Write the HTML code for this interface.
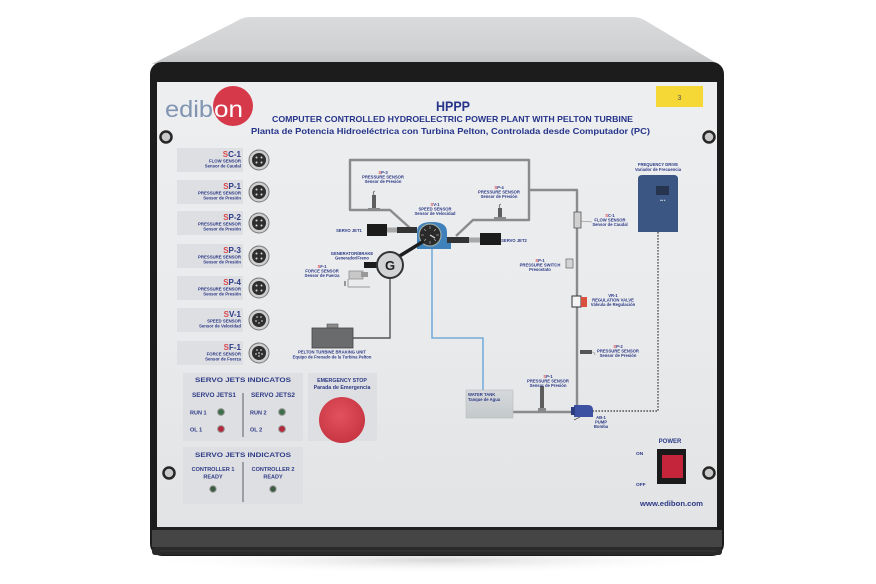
<!DOCTYPE html>
<html><head><meta charset="utf-8"><style>
html,body{margin:0;padding:0;background:#fff;}
svg{display:block;}
text{font-family:"Liberation Sans",sans-serif;}
</style></head><body>
<svg width="876" height="584" viewBox="0 0 876 584" xmlns="http://www.w3.org/2000/svg">
<defs>
<linearGradient id="lid" x1="0" y1="0" x2="0" y2="1">
<stop offset="0" stop-color="#d9dadc"/><stop offset="0.7" stop-color="#d0d1d3"/><stop offset="1" stop-color="#c2c3c5"/>
</linearGradient>
<linearGradient id="pan" x1="0" y1="0" x2="0" y2="1">
<stop offset="0" stop-color="#eceef0"/><stop offset="0.5" stop-color="#e9ebed"/><stop offset="1" stop-color="#e1e3e5"/>
</linearGradient>
<radialGradient id="btn" cx="0.45" cy="0.4" r="0.6">
<stop offset="0" stop-color="#e2525e"/><stop offset="1" stop-color="#c83643"/>
</radialGradient>
<linearGradient id="tank" x1="0" y1="0" x2="0" y2="1">
<stop offset="0" stop-color="#d6d9db"/><stop offset="1" stop-color="#c4c9cb"/>
</linearGradient>
<radialGradient id="shadow" cx="0.5" cy="0.5" r="0.5">
<stop offset="0" stop-color="#d8d8d8"/><stop offset="1" stop-color="#ffffff" stop-opacity="0"/>
</radialGradient>
</defs>
<rect width="876" height="584" fill="#fff"/>
<ellipse cx="437" cy="560" rx="300" ry="14" fill="url(#shadow)"/>
<!-- lid -->
<path d="M250,17 L633,17 Q640,17 646,21 L718,64 L152,64 L237,21 Q243,17 250,17 Z" fill="url(#lid)"/>
<!-- frame -->
<rect x="150" y="62" width="574" height="494" rx="12" fill="#1c1c1c"/>
<!-- panel -->
<rect x="157" y="82" width="560" height="445" fill="url(#pan)"/>
<!-- bottom bar -->
<rect x="157" y="527" width="560" height="3" fill="#202020"/>
<rect x="152" y="530" width="570" height="17" fill="#454545"/>
<rect x="152" y="547" width="570" height="8" rx="3" fill="#2a2a2a"/>
<line x1="160" y1="551" x2="716" y2="551" stroke="#3a3a3a" stroke-width="1"/>

<!-- logo -->
<text x="165" y="117" font-size="23" fill="#8194b2" textLength="48" lengthAdjust="spacingAndGlyphs">edib</text>
<circle cx="233" cy="106" r="20" fill="#d6394a"/>
<text x="214" y="117" font-size="23" fill="#ffffff" textLength="29" lengthAdjust="spacingAndGlyphs">on</text>

<!-- titles -->
<text x="436" y="111" font-size="14" font-weight="bold" fill="#26348a" textLength="34" lengthAdjust="spacingAndGlyphs">HPPP</text>
<text x="272" y="122" font-size="8.5" font-weight="bold" fill="#26348a" textLength="361" lengthAdjust="spacingAndGlyphs">COMPUTER CONTROLLED HYDROELECTRIC POWER PLANT WITH PELTON TURBINE</text>
<text x="251" y="134" font-size="8.5" font-weight="bold" fill="#26348a" textLength="399" lengthAdjust="spacingAndGlyphs">Planta de Potencia Hidroeléctrica con Turbina Pelton, Controlada desde Computador (PC)</text>
<rect x="656" y="86" width="47" height="21" fill="#f5d836"/>
<text x="679.5" y="100" font-size="7" fill="#555" text-anchor="middle">3</text>

<!-- screws -->
<g fill="#c9c9c9" stroke="#262626" stroke-width="2.5">
<circle cx="166" cy="137" r="5.5"/><circle cx="709" cy="137" r="5.5"/>
<circle cx="169" cy="473" r="5.5"/><circle cx="709" cy="473" r="5.5"/>
</g>

<!-- sensor labels -->
<g font-weight="bold" text-anchor="end">
<g>
<rect x="177" y="148" width="66" height="24" fill="#dddfe2"/>
<text x="241" y="157" font-size="8"><tspan fill="#d94a50">S</tspan><tspan fill="#2d3a86">C-1</tspan></text>
<text x="241" y="162.5" font-size="4.3" fill="#2d3a86">FLOW SENSOR</text>
<text x="241" y="167.5" font-size="4.3" fill="#2d3a86">Sensor de Caudal</text>
</g>
<g>
<rect x="177" y="180" width="66" height="24" fill="#dddfe2"/>
<text x="241" y="189" font-size="8"><tspan fill="#d94a50">S</tspan><tspan fill="#2d3a86">P-1</tspan></text>
<text x="241" y="194.5" font-size="4.3" fill="#2d3a86">PRESSURE SENSOR</text>
<text x="241" y="199.5" font-size="4.3" fill="#2d3a86">Sensor de Presión</text>
</g>
<g>
<rect x="177" y="211" width="66" height="24" fill="#dddfe2"/>
<text x="241" y="220" font-size="8"><tspan fill="#d94a50">S</tspan><tspan fill="#2d3a86">P-2</tspan></text>
<text x="241" y="225.5" font-size="4.3" fill="#2d3a86">PRESSURE SENSOR</text>
<text x="241" y="230.5" font-size="4.3" fill="#2d3a86">Sensor de Presión</text>
</g>
<g>
<rect x="177" y="244" width="66" height="24" fill="#dddfe2"/>
<text x="241" y="253" font-size="8"><tspan fill="#d94a50">S</tspan><tspan fill="#2d3a86">P-3</tspan></text>
<text x="241" y="258.5" font-size="4.3" fill="#2d3a86">PRESSURE SENSOR</text>
<text x="241" y="263.5" font-size="4.3" fill="#2d3a86">Sensor de Presión</text>
</g>
<g>
<rect x="177" y="276" width="66" height="24" fill="#dddfe2"/>
<text x="241" y="285" font-size="8"><tspan fill="#d94a50">S</tspan><tspan fill="#2d3a86">P-4</tspan></text>
<text x="241" y="290.5" font-size="4.3" fill="#2d3a86">PRESSURE SENSOR</text>
<text x="241" y="295.5" font-size="4.3" fill="#2d3a86">Sensor de Presión</text>
</g>
<g>
<rect x="177" y="308" width="66" height="24" fill="#dddfe2"/>
<text x="241" y="317" font-size="8"><tspan fill="#d94a50">S</tspan><tspan fill="#2d3a86">V-1</tspan></text>
<text x="241" y="322.5" font-size="4.3" fill="#2d3a86">SPEED SENSOR</text>
<text x="241" y="327.5" font-size="4.3" fill="#2d3a86">Sensor de Velocidad</text>
</g>
<g>
<rect x="177" y="341" width="66" height="24" fill="#dddfe2"/>
<text x="241" y="350" font-size="8"><tspan fill="#d94a50">S</tspan><tspan fill="#2d3a86">F-1</tspan></text>
<text x="241" y="355.5" font-size="4.3" fill="#2d3a86">FORCE SENSOR</text>
<text x="241" y="360.5" font-size="4.3" fill="#2d3a86">Sensor de Fuerza</text>
</g>
</g>
<!-- connectors -->
<g>
<g transform="translate(259,160)"><circle r="10" fill="#cfcfcf" stroke="#777" stroke-width="1"/><circle r="7" fill="#2e2e2e"/><circle cx="-2.5" cy="-2.5" r="1" fill="#ddd"/><circle cx="2.5" cy="-2.5" r="1" fill="#ddd"/><circle cx="-2.5" cy="2.5" r="1" fill="#ddd"/><circle cx="2.5" cy="2.5" r="1" fill="#ddd"/></g>
<g transform="translate(259,192)"><circle r="10" fill="#cfcfcf" stroke="#777" stroke-width="1"/><circle r="7" fill="#2e2e2e"/><circle cx="-2.5" cy="-2.5" r="1" fill="#ddd"/><circle cx="2.5" cy="-2.5" r="1" fill="#ddd"/><circle cx="-2.5" cy="2.5" r="1" fill="#ddd"/><circle cx="2.5" cy="2.5" r="1" fill="#ddd"/></g>
<g transform="translate(259,223)"><circle r="10" fill="#cfcfcf" stroke="#777" stroke-width="1"/><circle r="7" fill="#2e2e2e"/><circle cx="-2.5" cy="-2.5" r="1" fill="#ddd"/><circle cx="2.5" cy="-2.5" r="1" fill="#ddd"/><circle cx="-2.5" cy="2.5" r="1" fill="#ddd"/><circle cx="2.5" cy="2.5" r="1" fill="#ddd"/></g>
<g transform="translate(259,256)"><circle r="10" fill="#cfcfcf" stroke="#777" stroke-width="1"/><circle r="7" fill="#2e2e2e"/><circle cx="-2.5" cy="-2.5" r="1" fill="#ddd"/><circle cx="2.5" cy="-2.5" r="1" fill="#ddd"/><circle cx="-2.5" cy="2.5" r="1" fill="#ddd"/><circle cx="2.5" cy="2.5" r="1" fill="#ddd"/></g>
<g transform="translate(259,288)"><circle r="10" fill="#cfcfcf" stroke="#777" stroke-width="1"/><circle r="7" fill="#2e2e2e"/><circle cx="-2.5" cy="-2.5" r="1" fill="#ddd"/><circle cx="2.5" cy="-2.5" r="1" fill="#ddd"/><circle cx="-2.5" cy="2.5" r="1" fill="#ddd"/><circle cx="2.5" cy="2.5" r="1" fill="#ddd"/></g>
<g transform="translate(259,320)"><circle r="10" fill="#cfcfcf" stroke="#777" stroke-width="1"/><circle r="7" fill="#2e2e2e"/><circle cx="-2" cy="-3" r="0.9" fill="#bbb"/><circle cx="2" cy="-3" r="0.9" fill="#bbb"/><circle cx="-3" cy="1" r="0.9" fill="#bbb"/><circle cx="3" cy="1" r="0.9" fill="#bbb"/><circle cx="0" cy="3" r="0.9" fill="#bbb"/></g>
<g transform="translate(259,353)"><circle r="10" fill="#cfcfcf" stroke="#777" stroke-width="1"/><circle r="7" fill="#2e2e2e"/><circle cx="-2" cy="-3" r="0.9" fill="#ccc"/><circle cx="2" cy="-3" r="0.9" fill="#ccc"/><circle cx="-3" cy="1" r="0.9" fill="#ccc"/><circle cx="3" cy="1" r="0.9" fill="#ccc"/><circle cx="0" cy="3" r="0.9" fill="#ccc"/><circle cx="0" cy="0" r="0.9" fill="#ccc"/></g>
</g>

<!-- diagram pipes -->
<g fill="none" stroke="#8a8b8d" stroke-width="2.4" stroke-linejoin="round">
<path d="M410,228 L390,210 L350,210 L350,160 L529,160 L529,220 L473,220 L456,236"/>
<path d="M529,190 L577,190 L577,412"/>
<path d="M513,412 L576,412"/>
</g>
<path d="M432,248 L432,338 L483,338 L483,390" fill="none" stroke="#5f9fd6" stroke-width="1.3"/>
<path d="M390,279 L390,338 L353,338" fill="none" stroke="#555" stroke-width="1.4"/>
<path d="M658,232 L658,411 L593,411" fill="none" stroke="#555" stroke-width="1.4" stroke-dasharray="1.6,1.4"/>

<!-- SP-3 / SP-4 sensors -->
<rect x="372" y="195" width="4" height="13" fill="#5e5e5e"/>
<rect x="368" y="208" width="12" height="3" fill="#8a8a8a"/>
<path d="M374,195 q-2,-3 1,-4" stroke="#555" fill="none" stroke-width="0.8"/>
<rect x="498" y="208" width="4" height="10" fill="#5e5e5e"/>
<rect x="494" y="217" width="12" height="3" fill="#8a8a8a"/>
<path d="M500,208 q-2,-3 1,-4" stroke="#555" fill="none" stroke-width="0.8"/>

<!-- servo jets -->
<rect x="367" y="224" width="20" height="12" fill="#1b1b1b"/>
<rect x="387" y="227.5" width="10" height="5" fill="#a8a8a8"/>
<rect x="397" y="227" width="20" height="6" fill="#333"/>
<rect x="480" y="233" width="21" height="12" fill="#1b1b1b"/>
<rect x="469" y="237.5" width="11" height="5" fill="#a8a8a8"/>
<rect x="447" y="237" width="22" height="6" fill="#333"/>
<!-- turbine -->
<path d="M417,249 L417,232 Q417,222 432,222 Q447,222 447,232 L447,243 L451,243 L451,249 Z" fill="#3f82bb"/>
<circle cx="430" cy="235" r="11" fill="#2a2a2a" stroke="#9aa" stroke-width="1.2"/>
<g stroke="#aaa" stroke-width="0.7">
<line x1="430" y1="226" x2="430" y2="229"/><line x1="439" y1="235" x2="436" y2="235"/><line x1="421" y1="235" x2="424" y2="235"/><line x1="430" y1="244" x2="430" y2="241"/>
<line x1="424" y1="229" x2="426" y2="231"/><line x1="436" y1="229" x2="434" y2="231"/><line x1="424" y1="241" x2="426" y2="239"/><line x1="436" y1="241" x2="434" y2="239"/>
<line x1="430" y1="235" x2="435" y2="238" stroke="#ddd" stroke-width="1.2"/>
</g>
<!-- generator -->
<line x1="398" y1="257" x2="424" y2="241" stroke="#1e1e1e" stroke-width="3.5"/>
<rect x="364" y="262" width="14" height="6" fill="#1b1b1b"/>
<circle cx="390" cy="265" r="13" fill="#d2d3d4" stroke="#333" stroke-width="2"/>
<text x="390" y="270" font-size="13" font-weight="bold" fill="#1e1e1e" text-anchor="middle">G</text>
<!-- force sensor -->
<rect x="349" y="271" width="14" height="8" fill="#c8c8c8" stroke="#888" stroke-width="0.7"/>
<rect x="361" y="272" width="7" height="5" fill="#999"/>
<line x1="348" y1="287" x2="370" y2="287" stroke="#b5b5b5" stroke-width="1.5"/>
<line x1="348" y1="279" x2="348" y2="287" stroke="#999" stroke-width="1"/>
<line x1="345" y1="281" x2="345" y2="286" stroke="#444" stroke-width="1"/>
<!-- braking unit -->
<rect x="327" y="324" width="11" height="5" fill="#8a8a8a" stroke="#555" stroke-width="0.6"/>
<rect x="312" y="328" width="41" height="20" fill="#6a6b6d" stroke="#444" stroke-width="0.8"/>

<!-- right side devices -->
<rect x="574" y="212" width="7" height="16" fill="#d0d0d0" stroke="#555" stroke-width="0.8"/>
<line x1="581" y1="221" x2="592" y2="222" stroke="#777" stroke-width="0.6"/>
<rect x="566" y="259" width="7" height="9" fill="#d4d4d4" stroke="#666" stroke-width="0.7"/>
<rect x="572" y="296" width="9" height="11" fill="#f4f4f4" stroke="#333" stroke-width="1"/>
<rect x="581" y="297" width="6" height="10" fill="#d9503f"/>
<rect x="580" y="350" width="12" height="4" fill="#555"/>
<path d="M592,352 q3,0 3,3" fill="none" stroke="#777" stroke-width="0.6"/>
<rect x="466" y="390" width="47" height="28" fill="url(#tank)" stroke="#b8bcbe" stroke-width="0.6"/>
<rect x="540" y="386" width="4" height="22" fill="#5e5e5e"/>
<rect x="538" y="408" width="8" height="4" fill="#888"/>
<path d="M574,405 L588,405 Q593,405 593,410 L593,417 L574,417 Z" fill="#3d51a3"/>
<rect x="571" y="407" width="4" height="8" fill="#2c3c80"/>
<line x1="580" y1="417" x2="574" y2="420" stroke="#555" stroke-width="0.8"/>
<!-- frequency drive -->
<path d="M638,232 L638,179 Q638,175 642,175 L674,175 Q678,175 678,179 L678,232 Z" fill="#3b5682"/>
<rect x="656" y="186" width="13" height="9" fill="#27344f"/>
<text x="660" y="201" font-size="2.5" fill="#c0c8d8">■■ ■</text>

<!-- diagram labels -->
<g font-weight="bold" fill="#2d3a86" text-anchor="middle" font-size="4.2">
<text x="383" y="174"><tspan fill="#d94a50">S</tspan>P-3</text><text x="383" y="178.5">PRESSURE SENSOR</text><text x="383" y="183">Sensor de Presión</text>
<text x="499" y="189"><tspan fill="#d94a50">S</tspan>P-4</text><text x="499" y="193.5">PRESSURE SENSOR</text><text x="499" y="198">Sensor de Presión</text>
<text x="435" y="206"><tspan fill="#d94a50">S</tspan>V-1</text><text x="435" y="210.5">SPEED SENSOR</text><text x="435" y="215">Sensor de Velocidad</text>
<text x="349" y="232" text-anchor="middle">SERVO JET1</text>
<text x="514" y="242" text-anchor="middle">SERVO JET2</text>
<text x="352" y="255">GENERATOR/BRAKE</text><text x="352" y="259.5">Generador/Freno</text>
<text x="322" y="268"><tspan fill="#d94a50">S</tspan>F-1</text><text x="322" y="272.5">FORCE SENSOR</text><text x="322" y="277">Sensor de Fuerza</text>
<text x="332" y="353.5">PELTON TURBINE BRAKING UNIT</text><text x="332" y="358.5">Equipo de Frenado de la Turbina Pelton</text>
<text x="658" y="166">FREQUENCY DRIVE</text><text x="658" y="171">Variador de Frecuencia</text>
<text x="610" y="217"><tspan fill="#d94a50">S</tspan>C-1</text><text x="610" y="221.5">FLOW SENSOR</text><text x="610" y="226">Sensor de Caudal</text>
<text x="540" y="262"><tspan fill="#d94a50">S</tspan>P-1</text><text x="540" y="266.5">PRESSURE SWITCH</text><text x="540" y="271">Presostato</text>
<text x="613" y="297">VR-1</text><text x="613" y="301.5">REGULATION VALVE</text><text x="613" y="306">Válvula de Regulación</text>
<text x="618" y="348"><tspan fill="#d94a50">S</tspan>P-2</text><text x="618" y="352.5">PRESSURE SENSOR</text><text x="618" y="357">Sensor de Presión</text>
<text x="548" y="378"><tspan fill="#d94a50">S</tspan>P-1</text><text x="548" y="382.5">PRESSURE SENSOR</text><text x="548" y="387">Sensor de Presión</text>
<text x="601" y="419">AB-1</text><text x="601" y="423.5">PUMP</text><text x="601" y="428">Bomba</text>
<text x="468" y="396" text-anchor="start">WATER TANK</text><text x="468" y="401" text-anchor="start">Tanque de Agua</text>
</g>

<!-- servo jets indicators -->
<rect x="183" y="373" width="120" height="68" fill="#dedfe2"/>
<g font-weight="bold" fill="#2d3a86">
<text x="243" y="382" font-size="6.8" text-anchor="middle" textLength="96" lengthAdjust="spacingAndGlyphs">SERVO JETS INDICATOS</text>
<text x="214" y="397" font-size="6" text-anchor="middle" textLength="44" lengthAdjust="spacingAndGlyphs">SERVO JETS1</text>
<text x="273" y="397" font-size="6" text-anchor="middle" textLength="44" lengthAdjust="spacingAndGlyphs">SERVO JETS2</text>
<text x="190" y="414.5" font-size="5.5">RUN 1</text>
<text x="190" y="431.5" font-size="5.5">OL 1</text>
<text x="250" y="414.5" font-size="5.5">RUN 2</text>
<text x="250" y="431.5" font-size="5.5">OL 2</text>
</g>
<line x1="243" y1="393" x2="243" y2="437" stroke="#3a3a4a" stroke-width="0.8"/>
<g stroke="#999" stroke-width="1">
<circle cx="221" cy="412" r="3.4" fill="#3f6e4a"/><circle cx="282" cy="412" r="3.4" fill="#3f6e4a"/>
<circle cx="221" cy="429" r="3.4" fill="#b3283a"/><circle cx="282" cy="429" r="3.4" fill="#b3283a"/>
</g>
<rect x="183" y="447" width="120" height="57" fill="#dedfe2"/>
<g font-weight="bold" fill="#2d3a86" text-anchor="middle">
<text x="243" y="457" font-size="6.8" textLength="96" lengthAdjust="spacingAndGlyphs">SERVO JETS INDICATOS</text>
<text x="213" y="471" font-size="5.5">CONTROLLER 1</text>
<text x="213" y="478.5" font-size="5.5">READY</text>
<text x="273" y="471" font-size="5.5">CONTROLLER 2</text>
<text x="273" y="478.5" font-size="5.5">READY</text>
</g>
<line x1="243" y1="462" x2="243" y2="502" stroke="#3a3a4a" stroke-width="0.8"/>
<g stroke="#999" stroke-width="1">
<circle cx="213" cy="489" r="3.2" fill="#3a5a42"/><circle cx="273" cy="489" r="3.2" fill="#3a5a42"/>
</g>
<!-- emergency -->
<rect x="308" y="373" width="69" height="68" fill="#dedfe2"/>
<g font-weight="bold" fill="#2d3a86" text-anchor="middle">
<text x="342" y="382" font-size="5.3">EMERGENCY STOP</text>
<text x="342" y="389" font-size="5.3">Parada de Emergencia</text>
</g>
<circle cx="342" cy="420" r="23" fill="url(#btn)"/>

<!-- power -->
<g font-weight="bold" fill="#2d3a86">
<text x="670" y="443" font-size="6" text-anchor="middle">POWER</text>
<text x="636" y="455" font-size="4.8">ON</text>
<text x="636" y="486" font-size="4.8">OFF</text>
<text x="640" y="506" font-size="7.5" textLength="63" lengthAdjust="spacingAndGlyphs">www.edibon.com</text>
</g>
<rect x="657" y="449" width="29" height="35" fill="#1a1a1a"/>
<rect x="662" y="455" width="21" height="23" fill="#c4253a"/>
</svg>
</body></html>
